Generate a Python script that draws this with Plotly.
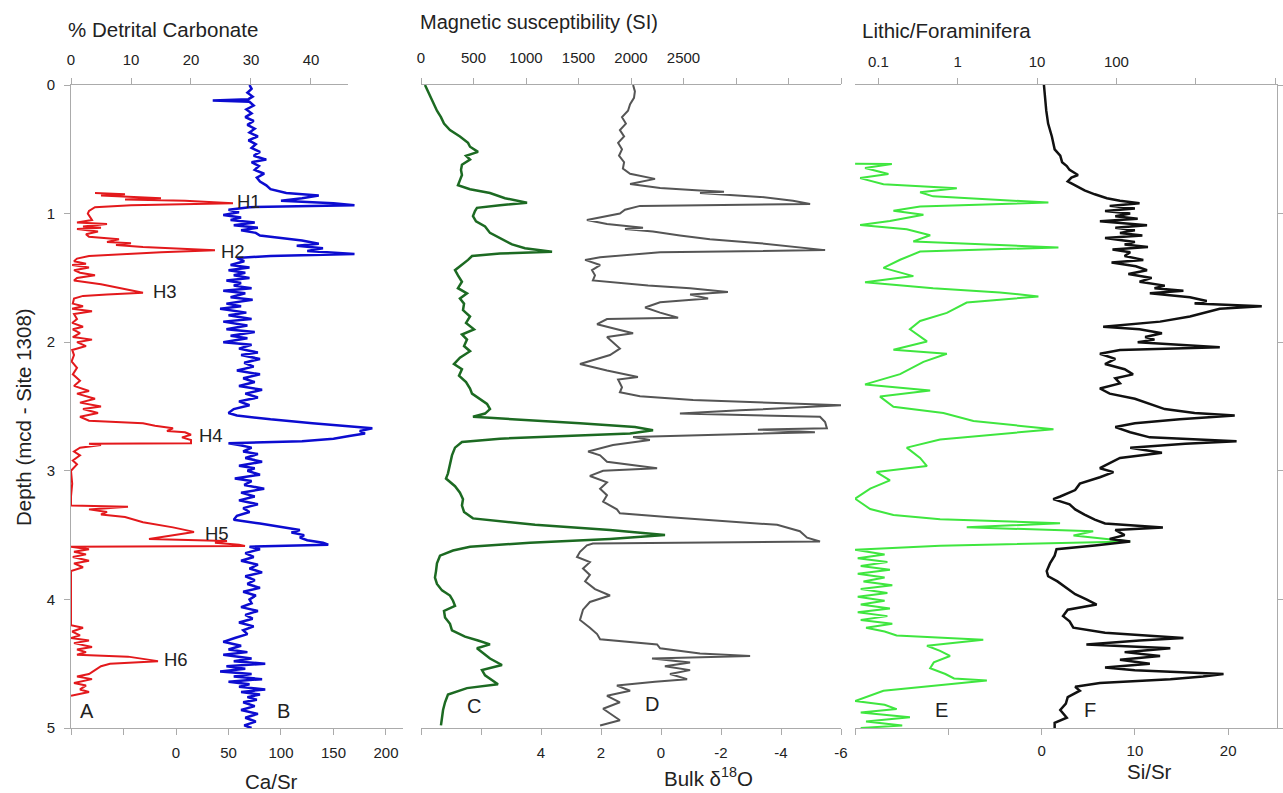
import plotly.graph_objects as go

W, H = 1283, 793
def fx(p):
    return p / W
def fy(p):
    return 1 - p / H

# ---------------- data (depth in mcd, values per series) ----------------
depth_A = [0.84,0.85,0.86,0.87,0.88,0.89,0.90,0.92,0.935,0.95,
           0.98,1.00,1.05,1.07,1.08,1.10,1.11,1.12,1.14,1.16,
           1.18,1.20,1.22,1.23,1.245,1.26,1.275,1.285,1.30,1.315,
           1.33,1.35,1.37,1.39,1.40,1.42,1.44,1.46,1.48,1.50,
           1.52,1.55,1.58,1.60,1.615,1.63,1.64,1.66,1.70,1.72,
           1.74,1.76,1.78,1.82,1.85,1.88,1.90,1.93,1.96,1.98,
           2.00,2.03,2.06,2.10,2.15,2.20,2.25,2.30,2.34,2.38,
           2.40,2.44,2.47,2.50,2.52,2.55,2.58,2.61,2.63,2.65,
           2.67,2.69,2.70,2.72,2.74,2.76,2.785,2.79,2.80,2.82,
           2.85,2.88,2.92,2.95,3.00,3.10,3.20,3.27,3.28,3.30,
           3.32,3.34,3.36,3.40,3.44,3.475,3.50,3.53,3.545,3.56,
           3.575,3.585,3.59,3.61,3.63,3.65,3.67,3.70,3.72,3.75,
           3.78,3.90,4.00,4.10,4.20,4.22,4.25,4.28,4.30,4.32,
           4.34,4.37,4.39,4.41,4.43,4.445,4.46,4.48,4.50,4.52,
           4.55,4.58,4.60,4.62,4.65,4.67,4.70,4.72,4.75]
detrital_carbonate = [4.0,9.0,5,10,15,9,19,27,10,4,
                      3,2.8,3.5,1,6,2,5,1,4.5,2.5,
                      3,8,6,10,7.5,12,20,24,15,8,
                      3,1,0.5,2.5,0.2,3,0.5,1.5,4,1,
                      0.5,5,8,10,12,6,2,0.5,0.3,2,
                      0.2,3.5,0.5,1,0.2,2,0.3,1.5,0.3,3.5,
                      1,2.5,0.2,0.5,0.1,1,0.3,1.5,0.5,3,
                      1,4,1.5,5,2,4.5,1.5,3,12,14,
                      17,16,19,20,18.5,20,20,3,5,1.5,
                      0.5,1.5,0.3,1,0,0.2,0,0,9.5,3,
                      6,5,9,12,17,20.5,17,13,26,24,
                      28,29,0,3,0.5,2.5,0.3,3,0.5,2,
                      0,0,0,0,0,2,0.2,1.5,0,3,
                      0.5,3.5,1,2.5,1,9.5,12,14.5,6.5,5,
                      4,3,1,3.5,0.5,2.5,1.5,3,0]

depth_B = [0.00,0.03,0.06,0.09,0.11,0.12,0.13,0.16,0.19,0.22,
           0.25,0.28,0.31,0.34,0.37,0.40,0.43,0.46,0.49,0.52,
           0.55,0.58,0.60,0.63,0.66,0.69,0.72,0.75,0.78,0.81,
           0.84,0.86,0.88,0.90,0.92,0.935,0.95,0.97,0.99,1.01,
           1.03,1.05,1.07,1.09,1.11,1.13,1.15,1.17,1.19,1.21,
           1.235,1.25,1.27,1.29,1.315,1.33,1.345,1.37,1.40,1.42,
           1.44,1.46,1.48,1.50,1.52,1.54,1.56,1.58,1.60,1.62,
           1.65,1.67,1.70,1.72,1.74,1.77,1.79,1.82,1.84,1.87,
           1.90,1.92,1.95,1.97,2.00,2.02,2.05,2.08,2.10,2.13,
           2.16,2.19,2.22,2.25,2.28,2.31,2.34,2.37,2.40,2.43,
           2.46,2.49,2.52,2.55,2.57,2.60,2.63,2.65,2.67,2.69,
           2.71,2.73,2.75,2.77,2.785,2.80,2.82,2.85,2.87,2.90,
           2.93,2.96,2.98,3.00,3.03,3.06,3.08,3.11,3.14,3.17,
           3.20,3.23,3.26,3.29,3.32,3.35,3.38,3.41,3.44,3.46,
           3.48,3.50,3.52,3.54,3.56,3.575,3.59,3.61,3.64,3.67,
           3.70,3.73,3.76,3.79,3.82,3.85,3.88,3.91,3.94,3.97,
           4.00,4.03,4.06,4.09,4.12,4.15,4.18,4.21,4.24,4.27,
           4.30,4.33,4.36,4.39,4.41,4.43,4.46,4.48,4.50,4.52,
           4.54,4.56,4.58,4.60,4.62,4.64,4.66,4.68,4.70,4.72,
           4.74,4.76,4.78,4.80,4.83,4.86,4.89,4.92,4.95,4.98,
           5.00]
ca_sr = [70,72,68,73,69,35,70,74,67,72,
         66,74,68,75,70,78,69,76,72,80,
         74,86,72,79,75,84,77,80,86,90,
         105,136,120,100,150,170,70,50,60,45,
         62,52,75,55,78,62,76,80,100,120,
         136,115,140,125,170,90,58,65,52,70,
         50,66,55,70,48,62,55,72,45,66,
         52,73,48,62,42,67,50,72,45,68,
         48,75,52,68,45,72,60,78,62,80,
         65,74,58,80,64,75,60,82,66,78,
         60,70,55,50,58,90,130,160,187,175,
         180,165,150,120,50,60,72,64,78,66,
         82,60,75,68,80,56,72,65,84,62,
         75,60,78,64,70,58,55,80,105,118,
         110,122,118,125,140,145,70,80,66,74,
         62,78,70,82,66,75,68,80,64,76,
         70,72,62,78,66,73,60,74,64,68,
         56,45,62,50,68,45,72,55,85,48,
         66,42,72,55,82,50,70,60,85,62,
         80,68,77,64,75,62,78,66,76,65,
         72]

depth_C = [0.00,0.05,0.10,0.15,0.20,0.25,0.30,0.35,0.40,0.45,
           0.48,0.52,0.55,0.58,0.62,0.66,0.70,0.74,0.78,0.81,
           0.84,0.88,0.915,0.935,0.955,0.98,1.02,1.06,1.10,1.15,
           1.20,1.24,1.27,1.297,1.31,1.33,1.36,1.40,1.44,1.48,
           1.53,1.58,1.62,1.66,1.70,1.75,1.80,1.85,1.90,1.94,
           1.98,2.03,2.07,2.12,2.17,2.21,2.26,2.31,2.36,2.40,
           2.44,2.48,2.52,2.555,2.58,2.60,2.63,2.66,2.685,2.71,
           2.73,2.75,2.776,2.82,2.88,2.95,3.02,3.06,3.12,3.17,
           3.22,3.27,3.32,3.37,3.42,3.46,3.50,3.53,3.56,3.59,
           3.62,3.66,3.72,3.78,3.83,3.88,3.93,3.97,4.01,4.05,
           4.09,4.14,4.19,4.24,4.29,4.32,4.35,4.38,4.42,4.46,
           4.51,4.55,4.59,4.63,4.66,4.69,4.74,4.80,4.86,4.92,
           4.98]
mag_susc = [38,67,95,124,152,190,219,276,371,448,
            467,543,429,467,390,381,390,371,352,467,
            657,800,1010,752,533,514,495,524,610,657,
            781,867,990,1248,752,486,448,390,324,352,
            390,352,438,371,410,400,467,429,505,390,
            438,410,467,371,314,390,362,429,467,486,
            562,629,657,610,495,943,1514,2038,2210,1990,
            1324,752,390,324,295,276,257,238,324,371,
            400,390,410,495,1086,1800,2324,1800,1038,467,
            305,181,152,143,133,152,200,276,305,324,
            219,229,276,295,419,543,657,533,600,657,
            771,581,610,676,733,438,257,229,210,200,
            190]

depth_D = [0.00,0.05,0.10,0.15,0.20,0.25,0.30,0.35,0.40,0.45,
           0.50,0.55,0.60,0.65,0.69,0.73,0.77,0.80,0.82,0.83,
           0.84,0.87,0.90,0.925,0.94,0.97,1.00,1.05,1.08,1.11,
           1.12,1.14,1.17,1.20,1.23,1.26,1.284,1.30,1.32,1.34,
           1.36,1.40,1.44,1.48,1.52,1.56,1.58,1.61,1.63,1.66,
           1.69,1.73,1.77,1.81,1.82,1.86,1.90,1.93,1.96,2.00,
           2.05,2.10,2.17,2.22,2.27,2.29,2.35,2.39,2.42,2.45,
           2.49,2.53,2.555,2.58,2.62,2.67,2.68,2.70,2.737,2.76,
           2.80,2.85,2.88,2.93,2.98,3.00,3.04,3.09,3.14,3.19,
           3.24,3.30,3.33,3.36,3.40,3.42,3.47,3.52,3.55,3.565,
           3.58,3.63,3.67,3.71,3.76,3.81,3.86,3.92,3.97,4.02,
           4.08,4.16,4.22,4.27,4.31,4.35,4.38,4.42,4.44,4.46,
           4.49,4.52,4.55,4.58,4.62,4.64,4.67,4.71,4.75,4.80,
           4.85,4.90,4.94,4.98]
bulk_d18o = [0.93,0.87,0.9,1.03,1.1,1.3,1.17,1.37,1.23,1.43,
             1.3,1.4,1.23,1.27,1.03,0.2,1.03,0.03,-1.3,-2.1,
             -1.3,-3.3,-4.4,-4.97,0.7,1.2,1.37,2.47,1.8,0.6,
             1.2,0.27,-0.63,-1.63,-3.3,-4.63,-5.47,0.03,1.03,2.03,
             2.53,2.03,2.3,2.2,2.27,0.43,-0.97,-2.23,-0.97,-1.57,
             0.03,0.53,0.03,-0.57,1.8,2.13,1.47,0.93,1.8,1.6,
             1.37,1.7,2.7,1.8,0.77,1.43,1.3,1.37,0.7,-1.07,
             -6.0,-2.63,-0.63,-5.3,-5.47,-5.53,-3.23,-5.13,0.93,0.37,
             1.6,2.43,2.03,1.8,0.13,1.93,2.37,1.8,2.03,1.8,
             1.93,1.47,1.37,-0.2,-2.63,-3.87,-4.63,-4.87,-5.3,2.27,
             2.47,2.7,2.8,2.37,2.6,2.37,2.53,2.2,1.7,2.37,
             2.6,2.7,2.37,2.13,2.03,0.13,0.03,-1.3,-2.97,0.3,
             -0.97,-0.13,-0.97,-0.3,-0.87,0.2,1.47,1.03,1.8,1.37,
             1.93,1.63,1.37,2.03]

depth_E = [0.612,0.615,0.645,0.692,0.724,0.771,0.803,0.834,0.866,0.914,
           0.945,0.977,1.009,1.057,1.089,1.121,1.168,1.216,1.263,1.295,
           1.359,1.422,1.486,1.533,1.581,1.613,1.644,1.692,1.772,1.835,
           1.899,1.994,2.058,2.09,2.153,2.248,2.328,2.375,2.423,2.502,
           2.55,2.613,2.677,2.756,2.82,2.9,2.963,3.01,3.074,3.138,
           3.217,3.297,3.344,3.376,3.408,3.439,3.471,3.503,3.55,3.582,
           3.614,3.65,3.68,3.71,3.74,3.77,3.80,3.83,3.86,3.89,
           3.92,3.95,3.98,4.01,4.04,4.07,4.10,4.13,4.16,4.19,
           4.22,4.25,4.281,4.313,4.36,4.40,4.44,4.49,4.535,4.58,
           4.615,4.63,4.71,4.79,4.82,4.853,4.88,4.916,4.95,4.98,
           5.00]
lithic_foram = [0.051,0.148,0.068,0.134,0.059,0.116,0.975,0.336,0.49,13.9,
                0.336,0.155,0.37,0.14,0.059,0.228,0.45,0.276,18.6,0.336,
                0.188,0.116,0.276,0.068,0.49,3.4,10.4,1.3,0.73,0.336,
                0.25,0.41,0.155,0.73,0.37,0.188,0.068,0.45,0.105,0.155,
                0.66,1.58,16.1,0.6,0.228,0.336,0.41,0.095,0.14,0.079,
                0.051,0.079,0.155,0.6,19.5,1.3,51,28.8,149,0.6,
                0.051,0.12,0.055,0.13,0.06,0.14,0.055,0.12,0.065,0.15,
                0.06,0.13,0.055,0.12,0.06,0.14,0.055,0.13,0.06,0.15,
                0.07,0.12,0.17,2.1,0.41,0.6,0.8,0.5,0.45,0.7,
                0.9,2.33,0.116,0.051,0.12,0.17,0.06,0.25,0.07,0.2,
                0.06]

depth_F = [0.00,0.10,0.20,0.30,0.40,0.50,0.55,0.60,0.63,0.66,
           0.70,0.72,0.75,0.78,0.82,0.85,0.88,0.90,0.92,0.94,
           0.96,0.98,1.00,1.02,1.04,1.06,1.09,1.11,1.13,1.15,
           1.17,1.19,1.22,1.24,1.26,1.28,1.30,1.33,1.36,1.38,
           1.41,1.44,1.47,1.50,1.53,1.56,1.58,1.60,1.62,1.65,
           1.68,1.70,1.72,1.74,1.76,1.80,1.84,1.88,1.90,1.93,
           1.96,1.98,2.00,2.04,2.06,2.09,2.13,2.17,2.21,2.25,
           2.28,2.32,2.36,2.40,2.44,2.48,2.52,2.55,2.57,2.60,
           2.63,2.66,2.70,2.74,2.77,2.79,2.82,2.86,2.90,2.94,
           2.98,3.01,3.05,3.10,3.15,3.20,3.22,3.26,3.30,3.34,
           3.38,3.41,3.44,3.46,3.50,3.53,3.55,3.58,3.61,3.66,
           3.72,3.78,3.82,3.86,3.91,3.96,4.00,4.04,4.08,4.13,
           4.17,4.22,4.26,4.30,4.32,4.35,4.38,4.41,4.44,4.47,
           4.50,4.53,4.55,4.58,4.60,4.62,4.65,4.68,4.71,4.76,
           4.81,4.86,4.92,4.96,5.00]
si_sr = [0.25,0.35,0.5,0.7,1.1,1.4,2,2.2,2.7,3,
         3.9,3.2,2.8,3.6,4.6,5.7,7,8.4,10.5,7.3,
         10,6.8,9.5,7.9,10.3,6.25,11.3,7.9,10,8.4,
         10.8,6.8,10,8.9,11.4,7.6,9.5,8.9,10.9,7.5,
         10.1,11.3,9.3,11.8,10.5,13.2,12.1,15.2,11.6,15.9,
         17.7,16.4,23.6,19.1,18,15.9,12.7,6.6,10.5,12.9,
         11.1,12.1,10.3,19.1,8.4,6.25,7.9,6.8,8.9,9.8,
         7.9,8.4,6.25,7.3,10,11.6,13.2,16.4,20.7,14.8,
         10,7.9,9.5,11.6,20.9,15.4,9.5,12.9,8.4,7.3,
         6.25,7.7,6.25,4.1,3.6,2.0,1.25,3.0,3.6,4.6,
         5.7,6.8,13,7.9,8.9,7.3,9.5,5.7,1.6,1.4,
         0.9,0.55,0.7,1.7,2.6,3.6,4.8,5.9,2.8,2.3,
         3,3.4,6.8,15.2,10.5,4.8,13.8,8.9,12.7,8.4,
         11.6,6.8,10,19.5,17.3,13.8,6.25,3.6,4.1,2.8,
         2.6,2,2.7,1.4,1.4]

depth_ticks = [0, 1, 2, 3, 4, 5]
dc_ticks = [0, 10, 20, 30, 40]
casr_ticks = [-100, -50, 0, 50, 100, 150, 200]
casr_labels = [" ", " ", "0", "50", "100", "150", "200"]
ms_ticks = [0, 500, 1000, 1500, 2000, 2500, 3000, 3500, 4000]
ms_labels = ["0", "500", "1000", "1500", "2000", "2500", " ", " ", " "]
d18o_ticks = [8, 6, 4, 2, 0, -2, -4, -6]
d18o_labels = [" ", " ", "4", "2", "0", "-2", "-4", "-6"]
lf_ticks = [0.1, 1, 10, 100, 1000, 10000]
lf_labels = ["0.1", "1", "10", "100", " ", " "]
sisr_ticks = [-20, -10, 0, 10, 20]
sisr_labels = [" ", " ", "0", "10", "20"]

# ---------------- figure ----------------
FONT = "Arial, Liberation Sans, sans-serif"
TXT = "#222222"
AX = "#ababab"

fig = go.Figure()

def line_trace(x, y, xa, color, width):
    return go.Scatter(x=x, y=y, xaxis=xa, yaxis="y", mode="lines",
                      line=dict(color=color, width=width), hoverinfo="skip")

fig.add_trace(line_trace(detrital_carbonate, depth_A, "x2", "#e3191c", 2))
fig.add_trace(line_trace(ca_sr, depth_B, "x", "#0c0cd0", 2.5))
fig.add_trace(line_trace(mag_susc, depth_C, "x3", "#1c6a22", 2.5))
fig.add_trace(line_trace(bulk_d18o, depth_D, "x4", "#555555", 2))
fig.add_trace(line_trace(lithic_foram, depth_E, "x5", "#3fe63f", 2))
fig.add_trace(line_trace(si_sr, depth_F, "x6", "#111111", 2.5))
# empty trace so that the right frame axis exists
fig.add_trace(go.Scatter(x=[], y=[], xaxis="x5", yaxis="y2", mode="lines",
                         showlegend=False))

base = dict(showline=True, linecolor=AX, linewidth=1, ticks="outside",
            ticklen=6, tickcolor=AX, tickwidth=1, showgrid=False,
            zeroline=False, fixedrange=True, automargin=False,
            tickfont=dict(size=15, color=TXT, family=FONT))

ydom = [fy(728), fy(85)]
p1b = [fx(71), fx(403)]
p1t = [fx(71), fx(348)]
p2 = [fx(421), fx(841)]
p3 = [fx(855), fx(1276.7)]

fig.update_layout(
    width=W, height=H,
    margin=dict(l=0, r=0, t=0, b=0, pad=0, autoexpand=False),
    paper_bgcolor="white", plot_bgcolor="rgba(0,0,0,0)",
    showlegend=False,
    font=dict(family=FONT, color=TXT),
    yaxis=dict(base, domain=ydom, range=[5, 0], anchor="x",
               tickvals=depth_ticks, ticklabelstandoff=6),
    yaxis2=dict(base, domain=ydom, range=[5, 0], anchor="x5",
                overlaying="y", side="right", tickvals=depth_ticks,
                showticklabels=False),
    xaxis=dict(base, domain=p1b, range=[-100, 216.2], anchor="y",
               side="bottom", tickvals=casr_ticks, ticktext=casr_labels,
               ticklabelstandoff=5),
    xaxis2=dict(base, domain=p1t, range=[0, 46.17], anchor="y",
                side="top", tickvals=dc_ticks, ticklabelstandoff=7),
    xaxis3=dict(base, domain=p2, range=[0, 4000], anchor="y",
                side="top", tickvals=ms_ticks, ticktext=ms_labels,
                ticklabelstandoff=9),
    xaxis4=dict(base, domain=p2, range=[8, -6], anchor="y",
                side="bottom", tickvals=d18o_ticks, ticktext=d18o_labels,
                ticklabelstandoff=5),
    xaxis5=dict(base, domain=p3, type="log", range=[-1.294, 4.02],
                anchor="y", side="top", tickvals=lf_ticks,
                ticktext=lf_labels, ticklabelstandoff=5),
    xaxis6=dict(base, domain=p3, range=[-20, 25.2], anchor="y",
                side="bottom", tickvals=sisr_ticks, ticktext=sisr_labels,
                ticklabelstandoff=3),
)

def note(text, x, y, size=19, xanchor="center", angle=0):
    fig.add_annotation(text=text, x=fx(x), y=fy(y), xref="paper",
                       yref="paper", showarrow=False, xanchor=xanchor,
                       yanchor="middle", textangle=angle,
                       font=dict(size=size, color=TXT, family=FONT))

note("% Detrital Carbonate", 66, 30, 20.5, "left")
note("Magnetic susceptibility (SI)", 418, 22, 20, "left")
note("Lithic/Foraminifera", 860, 31, 20.5, "left")
note("Ca/Sr", 271, 781, 20.5)
note("Bulk \u03b4<sup>18</sup>O", 708, 777, 20.5)
note("Si/Sr", 1149, 771, 20.5)
note("Depth (mcd - Site 1308)", 24, 417, 20.5, angle=-90)

for lab, x, y in [("A", 87, 711), ("B", 283, 711), ("C", 474, 706),
                  ("D", 652, 704), ("E", 941, 710), ("F", 1090, 710)]:
    note(lab, x, y, 20)
for lab, x, y in [("H1", 249, 201), ("H2", 233, 251), ("H3", 165, 292),
                  ("H4", 211, 436), ("H5", 217, 533), ("H6", 176, 659)]:
    note(lab, x, y, 18.5)

fig.write_html("out.html")
